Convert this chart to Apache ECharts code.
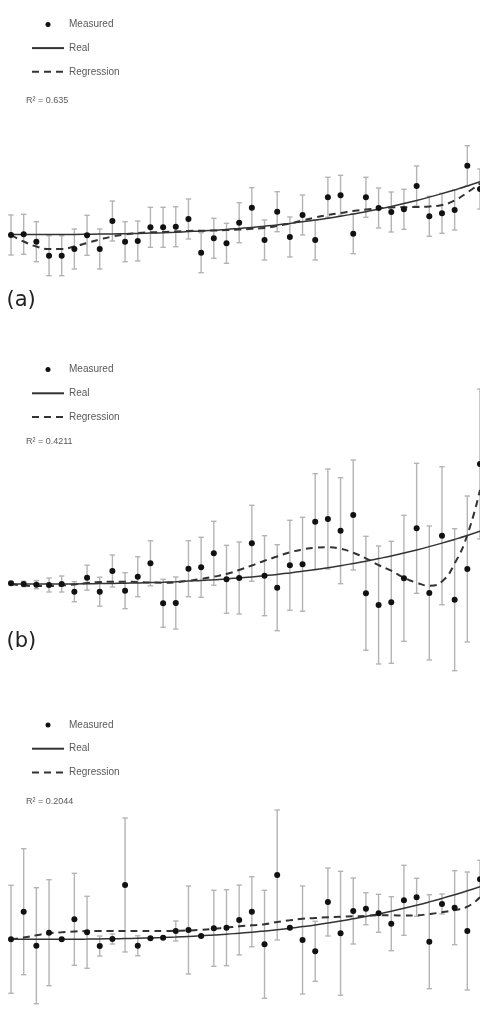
<!DOCTYPE html>
<html>
<head>
<meta charset="utf-8">
<script src="https://cdn.jsdelivr.net/npm/echarts@6/dist/echarts.min.js"></script>
<style>
  html, body { margin: 0; padding: 0; background: #fff; }
  #chart { width: 480px; height: 1011px; }
</style>
</head>
<body>
<div id="chart"></div>
<script>
// x positions: sample index 0..37
const idx = Array.from({ length: 38 }, (_, i) => i);

// "Real" curve, same in every panel (units above the start value)
const real = [0, 0, 0, 0, 0.1, 0.1, 0.2, 0.4, 0.5, 0.8, 1, 1.4, 1.8, 2.3, 2.9, 3.5, 4.3, 5.1, 6.1,
  7.1, 8.3, 9.6, 11.1, 12.7, 14.4, 16.3, 18.3, 20.5, 22.8, 25.4, 28.1, 31, 34.1, 37.4, 40.9, 44.6, 48.5, 52.7];

// panel (a)
const measA = [-0.5, 0.2, -7.2, -21.2, -21.2, -14.5, -0.8, -14.5, 13.5, -7.2, -6.5, 7.2, 7.2, 7.8, 15.5, -18.2,
  -3.8, -8.8, 11.8, 26.8, -5.5, 22.8, -2.5, 19.5, -5.5, 37.2, 39.2, 0.8, 37.2, 26.5, 22.5, 25.2, 48.5, 18.2,
  21.2, 24.5, 68.8, 45.5];
const errA = [20, 20, 20, 20, 20, 20, 20, 20, 20, 20, 20, 20, 20, 20, 20, 20, 20, 20, 20, 20, 20, 20, 20, 20,
  20, 20, 20, 20, 20, 20, 20, 20, 20, 20, 20, 20, 20, 20];
const regA = [-0.5, -7, -12, -14.5, -14.5, -12, -8.5, -5, -2, 0, 1.5, 2.2, 2.5, 3, 3.5, 3.8, 4, 4.5, 5, 5.7,
  6.5, 8.5, 11, 14, 17, 19.5, 21.5, 23.5, 25, 26.2, 27, 27.3, 27.5, 28, 29.5, 34, 42, 51];

// panel (b)
const measB = [0.7, 0, -0.7, -1, 0, -7.7, 6.3, -7.7, 13, -6.7, 7.3, 20.7, -19.3, -19, 15.3, 16.7, 30.7, 4.7,
  6, 40.7, 8.3, -3.7, 18.7, 19.7, 62.3, 65, 53.3, 69, -9.3, -21, -18.3, 5.7, 55.7, -9, 48.3, -15.7, 15, 120];
const errB = [1.5, 2.7, 4, 7, 8, 10, 12.5, 14.5, 16, 18, 20, 22.5, 24, 26, 28, 30, 32, 34, 36, 38, 40, 43, 45,
  47, 48, 50, 53, 55, 57, 59, 61, 63, 65, 67, 69, 71, 73, 75];
const regB = [0, -1.5, -2, -2, -1.5, -0.5, 1, 2, 2.3, 2.3, 2, 1.5, 1.3, 1.8, 3.3, 5, 7.3, 10, 14, 18.5, 23.3,
  27.5, 31.7, 34.5, 36.3, 36.7, 35.3, 31.3, 25.7, 19, 13.3, 6.3, 1.3, -1.7, 2.5, 20.5, 49, 94];

// panel (c)
const measC = [0, 27.6, -6.4, 6.6, 0, 20, 7, -6.7, 0.3, 54.3, -6.4, 1, 1.6, 8.3, 9.3, 3.3, 11, 11.6, 19.3,
  27.6, -5, 64.3, 11.6, -0.7, -12, 37.3, 6, 28.3, 30.6, 26, 15.6, 39, 42, -2.4, 35.3, 31.6, 8.3, 60];
const errC = [54, 63, 58, 53, 1, 46, 36, 10, 5, 67, 10, 1, 1, 10, 44, 1, 38, 38, 35, 35, 54, 65, 1, 54, 30,
  34, 62, 33, 16, 19, 27, 35, 19, 47, 10, 37, 59, 19];
const regC = [0, 1.7, 4, 6, 7, 7.8, 8.2, 8.3, 8.3, 8.3, 8.3, 8.3, 8.3, 8.5, 8.8, 9.5, 10.5, 11.7, 13, 14, 15,
  17.3, 19, 20.5, 21.3, 22, 22.6, 23, 23.3, 24, 24, 23.8, 24, 25.3, 27, 29.3, 32.6, 42];

const r2Labels = ['R\u00b2 = 0.635', 'R\u00b2 = 0.4211', 'R\u00b2 = 0.2044'];
const panelLabels = ['(a)', '(b)', '(c)'];

const panels = [
  { meas: measA, err: errA, reg: regA, top: 124.5, height: 170, min: -60, max: 110, legendTop: 13.4, r2Y: 101, labelY: 290 },
  { meas: measB, err: errB, reg: regB, top: 384, height: 300, min: -100, max: 200, legendTop: 358.6, r2Y: 442, labelY: 631 },
  { meas: measC, err: errC, reg: regC, top: 799.3, height: 210, min: -70, max: 140, legendTop: 714, r2Y: 802.5, labelY: 1040 }
];

const errColor = '#b4b4b4';
const lineColor = '#333333';

function renderErr(params, api) {
  const x = api.value(0), y = api.value(1), e = api.value(2);
  const top = api.coord([x, y + e]);
  const bot = api.coord([x, y - e]);
  const w = 2.7;
  const style = { stroke: errColor, lineWidth: 1.4 };
  return {
    type: 'group',
    children: [
      { type: 'line', shape: { x1: top[0], y1: top[1], x2: bot[0], y2: bot[1] }, style },
      { type: 'line', shape: { x1: top[0] - w, y1: top[1], x2: top[0] + w, y2: top[1] }, style },
      { type: 'line', shape: { x1: bot[0] - w, y1: bot[1], x2: bot[0] + w, y2: bot[1] }, style }
    ]
  };
}

const grid = [], xAxis = [], yAxis = [], series = [], legend = [], graphic = [];

panels.forEach((p, i) => {
  grid.push({ left: 11, right: 0, top: p.top, height: p.height });
  xAxis.push({ type: 'value', gridIndex: i, min: 0, max: 37, show: false });
  yAxis.push({ type: 'value', gridIndex: i, min: p.min, max: p.max, show: false });

  series.push({
    name: 'Error', type: 'custom', xAxisIndex: i, yAxisIndex: i,
    renderItem: renderErr, encode: { x: 0, y: 1 }, z: 1,
    data: p.meas.map((v, k) => [idx[k], v, p.err[k]])
  });
  series.push({
    name: 'Real', type: 'line', xAxisIndex: i, yAxisIndex: i, smooth: true, symbol: 'none', z: 2,
    lineStyle: { color: lineColor, width: 1.5 }, itemStyle: { color: lineColor },
    data: real.map((v, k) => [idx[k], v])
  });
  series.push({
    name: 'Regression', type: 'line', xAxisIndex: i, yAxisIndex: i, smooth: true, symbol: 'none', z: 3,
    lineStyle: { color: lineColor, width: 2, type: [7, 5] }, itemStyle: { color: lineColor },
    data: p.reg.map((v, k) => [idx[k], v])
  });
  series.push({
    name: 'Measured', type: 'scatter', xAxisIndex: i, yAxisIndex: i, symbolSize: 6, z: 4,
    itemStyle: { color: '#111111', opacity: 1 },
    data: p.meas.map((v, k) => [idx[k], v])
  });

  legend.push({
    data: [
      'Measured',
      { name: 'Real', itemStyle: { opacity: 0 } },
      { name: 'Regression', itemStyle: { opacity: 0 } }
    ],
    orient: 'vertical', left: 26, top: p.legendTop,
    itemWidth: 32, itemHeight: 5, itemGap: 11.7,
    selectedMode: false,
    textStyle: { color: '#595959', fontSize: 10, fontFamily: 'Liberation Sans', lineHeight: 12 }
  });

  graphic.push({
    type: 'text', left: 26, top: p.r2Y - 5,
    style: { text: r2Labels[i], fill: '#595959', font: '9px "Liberation Sans"' }
  });
  graphic.push({
    type: 'text', left: 6.5, top: p.labelY,
    style: { text: panelLabels[i], fill: '#222222', font: '21px "DejaVu Sans"' }
  });
});

const chart = echarts.init(document.getElementById('chart'), null, { renderer: 'canvas' });
chart.setOption({
  animation: false,
  backgroundColor: '#ffffff',
  grid, xAxis, yAxis, series, legend, graphic
});
</script>
</body>
</html>
